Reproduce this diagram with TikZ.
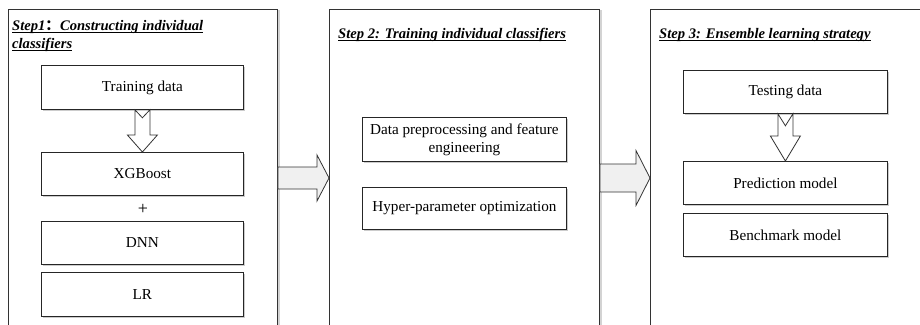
\documentclass[tikz,border=0pt]{standalone}
\usepackage{fontspec}
\setmainfont{Liberation Serif}
\newfontfamily\cjk{Noto Sans CJK SC}
\usetikzlibrary{shadows,calc}
\newcommand\hollowdown[4]{%
  \draw[downarrow]
    ($(#1.south)+(-7.5,0)$) -- ($(#1.south)+(0,#4)$) -- ($(#1.south)+(7.5,0)$)
    -- ($(#2.north)+(7.5,-#3)$) -- ($(#2.north)+(15,-#3)$) -- (#2.north)
    -- ($(#2.north)+(-15,-#3)$) -- ($(#2.north)+(-7.5,-#3)$) -- cycle;}
\newcommand\bigright[5]{%
  \draw[bigarrow]
    ($(#1)+(0,-#3)$) -- ($(#2)+(-#5,-#3)$) -- ($(#2)+(-#5,-#4)$) -- (#2)
    -- ($(#2)+(-#5,#4)$) -- ($(#2)+(-#5,#3)$) -- ($(#1)+(0,#3)$) -- cycle;}
\begin{document}
\begin{tikzpicture}[x=1pt,y=-1pt,
  panel/.style={draw=black!80, line width=0.9pt, fill=white, anchor=north west,
    inner sep=0, minimum height=340pt,
    drop shadow={shadow xshift=3pt, shadow yshift=-1pt, opacity=0.35}},
  box/.style={draw=black!85, line width=0.8pt, fill=white, anchor=north west,
    inner sep=0, align=center, font=\fontsize{15.2}{18}\selectfont,
    drop shadow={shadow xshift=2pt, shadow yshift=-2pt, opacity=0.4}},
  ttl/.style={anchor=base west, inner sep=0, font=\fontsize{14.6}{17}\selectfont\bfseries\itshape},
  uline/.style={line width=1pt, black},
  bigarrow/.style={draw=black!80, line width=0.8pt, fill=black!6},
  downarrow/.style={draw=black!80, line width=0.8pt, fill=white}]
\useasboundingbox (0,0) rectangle (920,324);
\clip (0,0) rectangle (920,324);
% panels
\node[panel, minimum width=269pt] (p1) at (8,9) {};
\node[panel, minimum width=270pt] (p2) at (329,9) {};
\node[panel, minimum width=285pt] (p3) at (650,9) {};
% titles
\node[ttl] (t1a) at (12,30) {Step1{\cjk ：}Constructing individual};
\node[ttl] (t1b) at (12,48) {classifiers};
\node[ttl] (t2) at (338,38) {Step 2: Training individual classifiers};
\node[ttl] (t3) at (659,38) {Step 3: Ensemble learning strategy};
\foreach \t in {t1a,t1b,t2,t3}
  \draw[uline] ($(\t.base west)+(0,2)$) -- ($(\t.base east)+(0,2)$);
% panel 1 boxes
\node[box, minimum width=202pt, minimum height=44pt] (train) at (41,65) {Training data};
\node[box, minimum width=202pt, minimum height=43pt] (xgb) at (41,152) {XGBoost};
\node[inner sep=0, font=\fontsize{18}{18}\selectfont] (plus) at (143,209) {+};
\node[box, minimum width=202pt, minimum height=43pt] (dnn) at (41,221) {DNN};
\node[box, minimum width=202pt, minimum height=44pt] (lr) at (41,272) {LR};
% panel 2 boxes
\node[box, minimum width=204pt, minimum height=44pt] (prep) at (362,117) {Data preprocessing and feature\\engineering};
\node[box, minimum width=204pt, minimum height=42pt] (hyper) at (362,187) {Hyper-parameter optimization};
% panel 3 boxes
\node[box, minimum width=204pt, minimum height=43pt] (test) at (683,70) {Testing data};
\node[box, minimum width=204pt, minimum height=43pt] (pred) at (683,161) {Prediction model};
\node[box, minimum width=204pt, minimum height=43pt] (bench) at (683,213) {Benchmark model};
% hollow down arrows
\hollowdown{train}{xgb}{17}{8}
\hollowdown{test}{pred}{25}{12}
% big arrows between panels
\coordinate (a1s) at ($(p1.north east)+(0,169)$);
\coordinate (a1t) at ($(p2.north west)+(0,169)$);
\coordinate (a2s) at ($(p2.north east)+(0,169)$);
\coordinate (a2t) at ($(p3.north west)+(0,169)$);
\bigright{a1s}{a1t}{11}{23}{12}
\bigright{a2s}{a2t}{14}{27.5}{14}
\end{tikzpicture}
\end{document}
